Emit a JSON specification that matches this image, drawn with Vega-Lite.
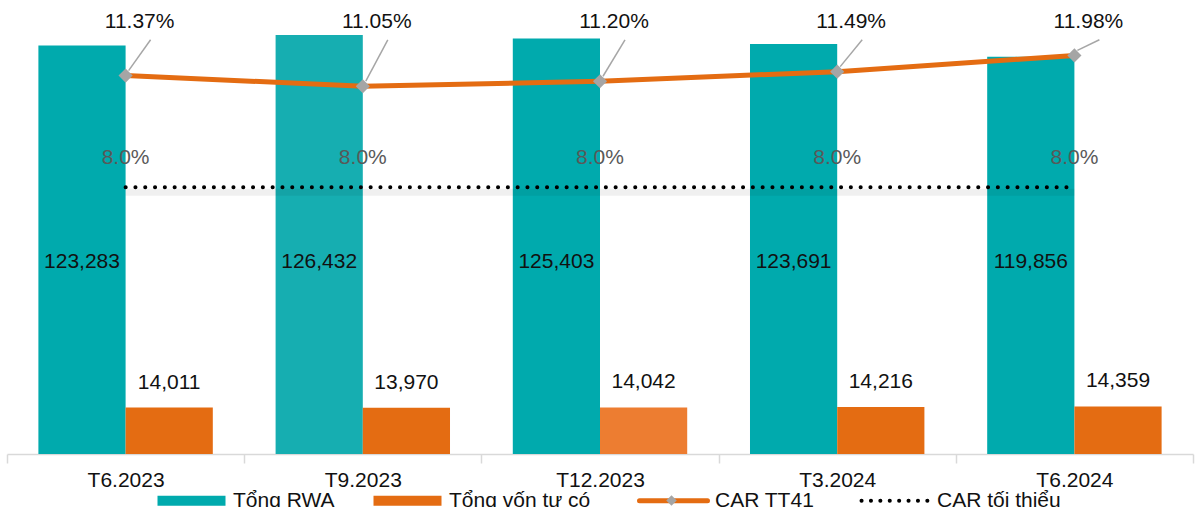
{
  "$schema": "https://vega.github.io/schema/vega-lite/v6.json",
  "width": 1186,
  "height": 454,
  "autosize": {"type": "none"},
  "padding": {"left": 7, "top": 0, "right": 2, "bottom": 53},
  "background": "white",
  "config": {"view": {"stroke": null}, "font": "Liberation Sans"},
  "datasets": {
    "bars": [
      {"period": "T6.2023", "series": "Tổng RWA", "value": 123283},
      {"period": "T6.2023", "series": "Tổng vốn tự có", "value": 14011},
      {"period": "T9.2023", "series": "Tổng RWA", "value": 126432},
      {"period": "T9.2023", "series": "Tổng vốn tự có", "value": 13970},
      {"period": "T12.2023", "series": "Tổng RWA", "value": 125403},
      {"period": "T12.2023", "series": "Tổng vốn tự có", "value": 14042},
      {"period": "T3.2024", "series": "Tổng RWA", "value": 123691},
      {"period": "T3.2024", "series": "Tổng vốn tự có", "value": 14216},
      {"period": "T6.2024", "series": "Tổng RWA", "value": 119856},
      {"period": "T6.2024", "series": "Tổng vốn tự có", "value": 14359}
    ],
    "car": [
      {"period": "T6.2023", "car": 0.1137, "min": 0.08},
      {"period": "T9.2023", "car": 0.1105, "min": 0.08},
      {"period": "T12.2023", "car": 0.1120, "min": 0.08},
      {"period": "T3.2024", "car": 0.1149, "min": 0.08},
      {"period": "T6.2024", "car": 0.1198, "min": 0.08}
    ]
  },
  "layer": [
    {
      "data": {"name": "bars"},
      "layer": [
        {
          "mark": {"type": "bar"},
          "encoding": {
            "x": {"field": "period", "type": "nominal", "scale": {"domain": ["T6.2023", "T9.2023", "T12.2023", "T3.2024", "T6.2024"], "paddingInner": 0, "paddingOuter": 0},
              "axis": {"title": null, "labelFont": "Liberation Sans", "labelFontSize": 21, "labelColor": "#111111", "labelAngle": 0, "domainColor": "#D9D9D9", "domainWidth": 1.5, "tickColor": "#D9D9D9", "tickWidth": 1.5, "tickSize": 9, "tickBand": "extent", "labelPadding": 6, "grid": false}},
            "xOffset": {"field": "series", "type": "nominal", "scale": {"domain": ["Tổng RWA", "Tổng vốn tự có"], "paddingInner": 0, "paddingOuter": 0.36}},
            "y": {"field": "value", "type": "quantitative", "scale": {"domain": [0, 137000], "nice": false, "zero": false}, "axis": null},
            "color": {
              "condition": [
                {"test": "datum.period === 'T9.2023' && datum.series === 'Tổng RWA'", "value": "#16AEB1"},
                {"test": "datum.period === 'T12.2023' && datum.series === 'Tổng vốn tự có'", "value": "#ED7D31"}
              ],
              "field": "series", "type": "nominal",
              "scale": {"domain": ["Tổng RWA", "Tổng vốn tự có", "CAR TT41", "CAR tối thiểu"], "range": ["#00AAAD", "#E46C12", "#E46C12", "#000000"]},
              "legend": {
                "orient": "none", "legendX": 174, "legendY": 490, "direction": "horizontal", "title": null,
                "labelFont": "Liberation Sans", "labelFontSize": 21, "labelColor": "#111111", "labelLimit": 0,
                "symbolSize": 4624, "columnPadding": 38, "labelOffset": 31, "padding": 0,
                "encode": {"symbols": {"update": {
                  "shape": {"signal": "datum.value === 'CAR tối thiểu' || datum.value === 'CAR TT41' ? 'M-1,0H1' : 'M-1,-0.147H1V0.147H-1Z'"},
                  "fill": {"signal": "datum.value === 'Tổng RWA' ? '#00AAAD' : datum.value === 'Tổng vốn tự có' ? '#E46C12' : 'transparent'"},
                  "stroke": {"signal": "datum.value === 'CAR TT41' ? '#E46C12' : datum.value === 'CAR tối thiểu' ? '#000000' : 'transparent'"},
                  "strokeWidth": {"signal": "datum.value === 'CAR TT41' ? 5 : datum.value === 'CAR tối thiểu' ? 4 : 0"},
                  "strokeDash": {"signal": "datum.value === 'CAR tối thiểu' ? [0.1, 9.3] : [1, 0]"},
                  "strokeCap": {"value": "round"},
                  "opacity": {"value": 1}
                }}}
              }}
          }
        },
        {
          "transform": [{"filter": "datum.series === 'Tổng vốn tự có'"}],
          "mark": {"type": "text", "dy": -25, "font": "Liberation Sans", "fontSize": 21, "color": "#111111", "baseline": "middle"},
          "encoding": {
            "x": {"field": "period", "type": "nominal"},
            "xOffset": {"field": "series", "type": "nominal", "scale": {"domain": ["Tổng RWA", "Tổng vốn tự có"]}},
            "y": {"field": "value", "type": "quantitative"},
            "text": {"field": "value", "type": "quantitative", "format": ",.0f"}
          }
        },
        {
          "transform": [{"filter": "datum.series === 'Tổng RWA'"}],
          "mark": {"type": "text", "font": "Liberation Sans", "fontSize": 21, "color": "#111111", "baseline": "middle"},
          "encoding": {
            "x": {"field": "period", "type": "nominal"},
            "xOffset": {"field": "series", "type": "nominal", "scale": {"domain": ["Tổng RWA", "Tổng vốn tự có"]}},
            "y": {"datum": 58000, "type": "quantitative"},
            "text": {"field": "value", "type": "quantitative", "format": ",.0f"}
          }
        }
      ]
    },
    {
      "data": {"name": "car"},
      "layer": [
        {
          "mark": {"type": "line", "strokeWidth": 7, "stroke": "#000000", "opacity": 0.06, "yOffset": 5},
          "encoding": {
            "x": {"field": "period", "type": "nominal"},
            "y": {"field": "min", "type": "quantitative", "scale": {"domain": [-0.0004, 0.1365], "nice": false, "zero": false}, "axis": null}
          }
        },
        {
          "mark": {"type": "line", "strokeWidth": 4, "strokeDash": [0.1, 9.7], "strokeCap": "round"},
          "encoding": {
            "x": {"field": "period", "type": "nominal"},
            "y": {"field": "min", "type": "quantitative"},
            "color": {"datum": "CAR tối thiểu", "type": "nominal"}
          }
        },
        {
          "mark": {"type": "text", "dy": -29, "font": "Liberation Sans", "fontSize": 21, "color": "#595959", "baseline": "middle"},
          "encoding": {
            "x": {"field": "period", "type": "nominal"},
            "y": {"field": "min", "type": "quantitative"},
            "text": {"field": "min", "type": "quantitative", "format": ".1%"}
          }
        },
        {
          "mark": {"type": "line", "strokeWidth": 5},
          "encoding": {
            "x": {"field": "period", "type": "nominal"},
            "y": {"field": "car", "type": "quantitative"},
            "color": {"datum": "CAR TT41", "type": "nominal"}
          }
        },
        {
          "mark": {"type": "rule", "stroke": "#A6A6A6", "strokeWidth": 1.5, "xOffset": 3, "yOffset": -5, "x2Offset": 25},
          "encoding": {
            "x": {"field": "period", "type": "nominal"},
            "x2": {"field": "period"},
            "y": {"field": "car", "type": "quantitative"},
            "y2": {"datum": 0.1245}
          }
        },
        {
          "mark": {"type": "point", "size": 200, "filled": true, "fill": "#A5A5A5", "opacity": 1, "strokeWidth": 0},
          "encoding": {
            "x": {"field": "period", "type": "nominal"},
            "y": {"field": "car", "type": "quantitative"},
            "shape": {"datum": "CAR TT41", "type": "nominal", "scale": {"domain": ["CAR TT41"], "range": ["diamond"]},
              "legend": {
                "orient": "none", "legendX": 654, "legendY": 490, "direction": "horizontal", "title": null,
                "labelFont": "Liberation Sans", "labelFontSize": 21, "labelOpacity": 0, "labelLimit": 0,
                "symbolSize": 110, "symbolFillColor": "#A5A5A5", "symbolStrokeWidth": 0, "symbolOpacity": 1,
                "labelOffset": 31, "padding": 0
              }}
          }
        },
        {
          "mark": {"type": "text", "dx": 14, "font": "Liberation Sans", "fontSize": 21, "color": "#111111", "baseline": "middle"},
          "encoding": {
            "x": {"field": "period", "type": "nominal"},
            "y": {"datum": 0.13, "type": "quantitative"},
            "text": {"field": "car", "type": "quantitative", "format": ".2%"}
          }
        }
      ]
    }
  ],
  "resolve": {"scale": {"y": "independent"}}
}
